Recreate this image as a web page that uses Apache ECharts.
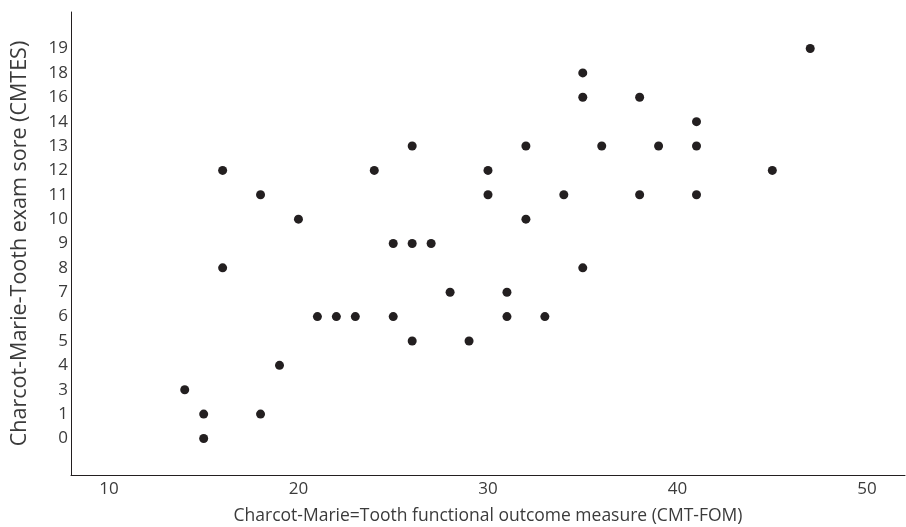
<!DOCTYPE html>
<html>
<head>
<meta charset="utf-8">
<script src="https://cdn.jsdelivr.net/npm/echarts@6/dist/echarts.min.js"></script>
<style>
  html, body { margin: 0; padding: 0; background: #fff; }
  #chart { width: 906px; height: 527px; }
</style>
</head>
<body>
<div id="chart"></div>
<script>
// y 轴刻度（原图中不连续的类目）
let yLabels = ['0', '1', '3', '4', '5', '6', '7', '8', '9', '10', '11', '12', '13', '14', '16', '18', '19']

// CMT-FOM 分数
let fomScores = [14, 15, 15, 16, 16, 18, 18, 19, 20, 21, 22, 23, 24, 25, 25, 26, 26, 26, 27, 28, 29,
  30, 30, 31, 31, 32, 32, 33, 34, 35, 35, 35, 36, 38, 38, 39, 41, 41, 41, 45, 47]
// CMTES 分数
let cmtesScores = [3, 1, 0, 12, 8, 11, 1, 4, 10, 6, 6, 6, 12, 9, 6, 13, 9, 5, 9, 7, 5,
  12, 11, 7, 6, 13, 10, 6, 11, 18, 16, 8, 13, 16, 11, 13, 14, 13, 11, 12, 19]

let xTickLabels = [10, 20, 30, 40, 50]

let textColor = '#3b3b3b'
let fontFamily = '"Open Sans", "Noto Sans", sans-serif'

// 前后各加一个空类目，让两端留白
let yCategories = [' '].concat(yLabels, ['  '])

let points = fomScores.map((x, i) => [x, String(cmtesScores[i])])

let chartOption = {
  animation: false,
  backgroundColor: '#fff',
  grid: { left: 71, right: 1, top: 12, bottom: 52, containLabel: false, outerBoundsMode: 'none' },
  xAxis: {
    type: 'value',
    min: 8,
    max: 52,
    interval: 2,
    name: 'Charcot-Marie=Tooth functional outcome measure (CMT-FOM)',
    nameLocation: 'middle',
    nameGap: 32,
    nameTextStyle: { color: textColor, fontSize: 17.5, fontFamily: fontFamily },
    axisLine: { show: true, onZero: false, lineStyle: { color: '#231f20', width: 1 } },
    axisTick: { show: false },
    splitLine: { show: false },
    axisLabel: {
      color: textColor,
      fontSize: 17,
      fontFamily: fontFamily,
      margin: 6,
      formatter: function (v) {
        return xTickLabels.indexOf(v) >= 0 ? String(v) : ''
      }
    }
  },
  yAxis: {
    type: 'category',
    data: yCategories,
    boundaryGap: true,
    name: 'Charcot-Marie-Tooth exam sore (CMTES)',
    nameLocation: 'middle',
    nameGap: 40,
    nameTextStyle: { color: textColor, fontSize: 21.5, fontFamily: fontFamily },
    axisLine: { show: true, lineStyle: { color: '#231f20', width: 1 } },
    axisTick: { show: false },
    splitLine: { show: false },
    axisLabel: {
      color: textColor,
      fontSize: 17,
      fontFamily: fontFamily,
      margin: 3,
      interval: 0
    }
  },
  series: [{
    type: 'scatter',
    symbol: 'circle',
    symbolSize: 9,
    itemStyle: { color: '#231f20', opacity: 1 },
    data: points
  }]
}

let chartInstance = echarts.init(document.querySelector('#chart'))
chartInstance.setOption(chartOption)
</script>
</body>
</html>
